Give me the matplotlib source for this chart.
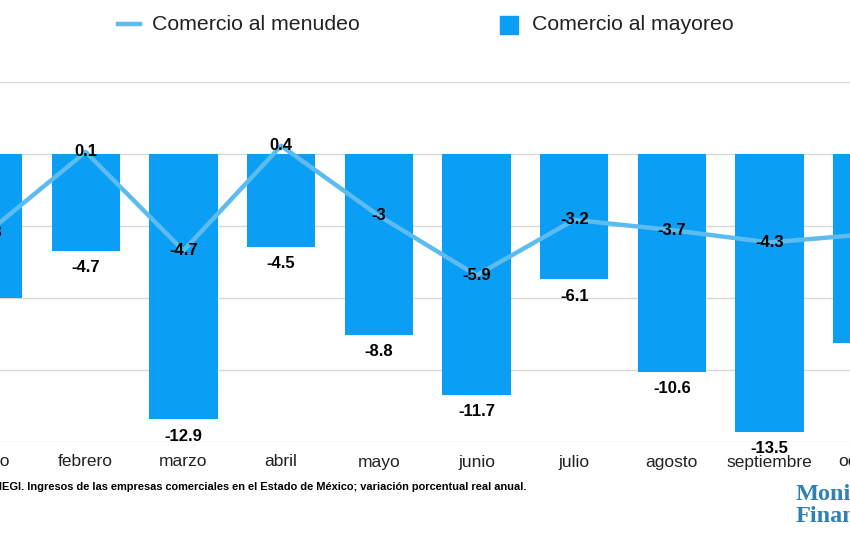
import matplotlib
matplotlib.use("Agg")
import matplotlib.pyplot as plt
from matplotlib.lines import Line2D
from matplotlib.patches import Rectangle
import numpy as np

plt.rcParams['font.family'] = ['Liberation Sans', 'DejaVu Sans']

meses = ['enero', 'febrero', 'marzo', 'abril', 'mayo', 'junio',
         'julio', 'agosto', 'septiembre', 'octubre']
mayoreo = [-7.0, -4.7, -12.9, -4.5, -8.8, -11.7, -6.1, -10.6, -13.5, -9.2]
menudeo = [-3.8, 0.1, -4.7, 0.4, -3, -5.9, -3.2, -3.7, -4.3, -3.9]

color_barra = '#0a9ef5'
color_linea = '#5dbcef'

fig = plt.figure(figsize=(8.5, 5.5), dpi=100)
# el grafico original esta recortado: los ejes salen del lienzo por ambos lados
paso = 97.7
izq = -12 - 0.5 * paso
ax = fig.add_axes([izq / 850, 108 / 550, 10 * paso / 850, 360 / 550])

x = np.arange(len(meses))
ax.bar(x, mayoreo, width=0.7, color=color_barra, zorder=2)
ax.plot(x, menudeo, color=color_linea, lw=3.2, zorder=3)

# etiquetas de las barras (debajo) y de la linea (sobre el punto)
for xi, v in zip(x, mayoreo):
    ax.annotate(f'{v:g}', (xi, v), xytext=(0, -12), textcoords='offset points',
                ha='center', va='center', fontsize=12, fontweight='bold', zorder=4)
for xi, v in zip(x, menudeo):
    ax.annotate(f'{v:g}', (xi, v), ha='center', va='center',
                fontsize=12, fontweight='bold', zorder=4)

ax.set_xticks(x)
ax.set_xticklabels(meses, fontsize=12.5, color='#222222')
ax.tick_params(axis='x', length=0, pad=9)
ax.set_yticks([3.5, 0, -3.5, -7, -10.5, -14])
ax.yaxis.grid(True, color='#d9d9d9', lw=1, zorder=0)
ax.set_yticklabels([])
ax.tick_params(axis='y', length=0)
ax.set_xlim(-0.5, 9.5)
ax.set_ylim(-14, 3.5)
for s in ax.spines.values():
    s.set_visible(False)

# leyenda
fig.add_artist(Line2D([118 / 850, 140 / 850], [1 - 24 / 550] * 2,
                      color=color_linea, lw=3.2))
fig.text(152 / 850, 1 - 24 / 550, 'Comercio al menudeo', fontsize=15.3,
         va='center', ha='left', color='#222222')
fig.add_artist(Rectangle((500 / 850, 1 - 34 / 550), 18 / 850, 18 / 550,
                         color=color_barra, transform=fig.transFigure))
fig.text(532 / 850, 1 - 24 / 550, 'Comercio al mayoreo', fontsize=15.3,
         va='center', ha='left', color='#222222')

# fuente
fig.text(527 / 850, 1 - 487 / 550,
         'Fuente: INEGI. Ingresos de las empresas comerciales en el Estado de México; '
         'variación porcentual real anual.',
         fontsize=7.95, fontweight='bold', ha='right', va='center',
         family=['Liberation Sans Narrow', 'Liberation Sans', 'DejaVu Sans'])

# logo
fig.text(796 / 850, 1 - 494 / 550, 'Monitor', fontsize=17.5, color='#2f80b5',
         family=['Liberation Serif', 'DejaVu Serif'], fontweight='bold', va='center')
fig.text(796 / 850, 1 - 516 / 550, 'Financiero', fontsize=17.5, color='#2f80b5',
         family=['Liberation Serif', 'DejaVu Serif'], fontweight='bold', va='center')

fig.savefig('out.png', dpi=100)
